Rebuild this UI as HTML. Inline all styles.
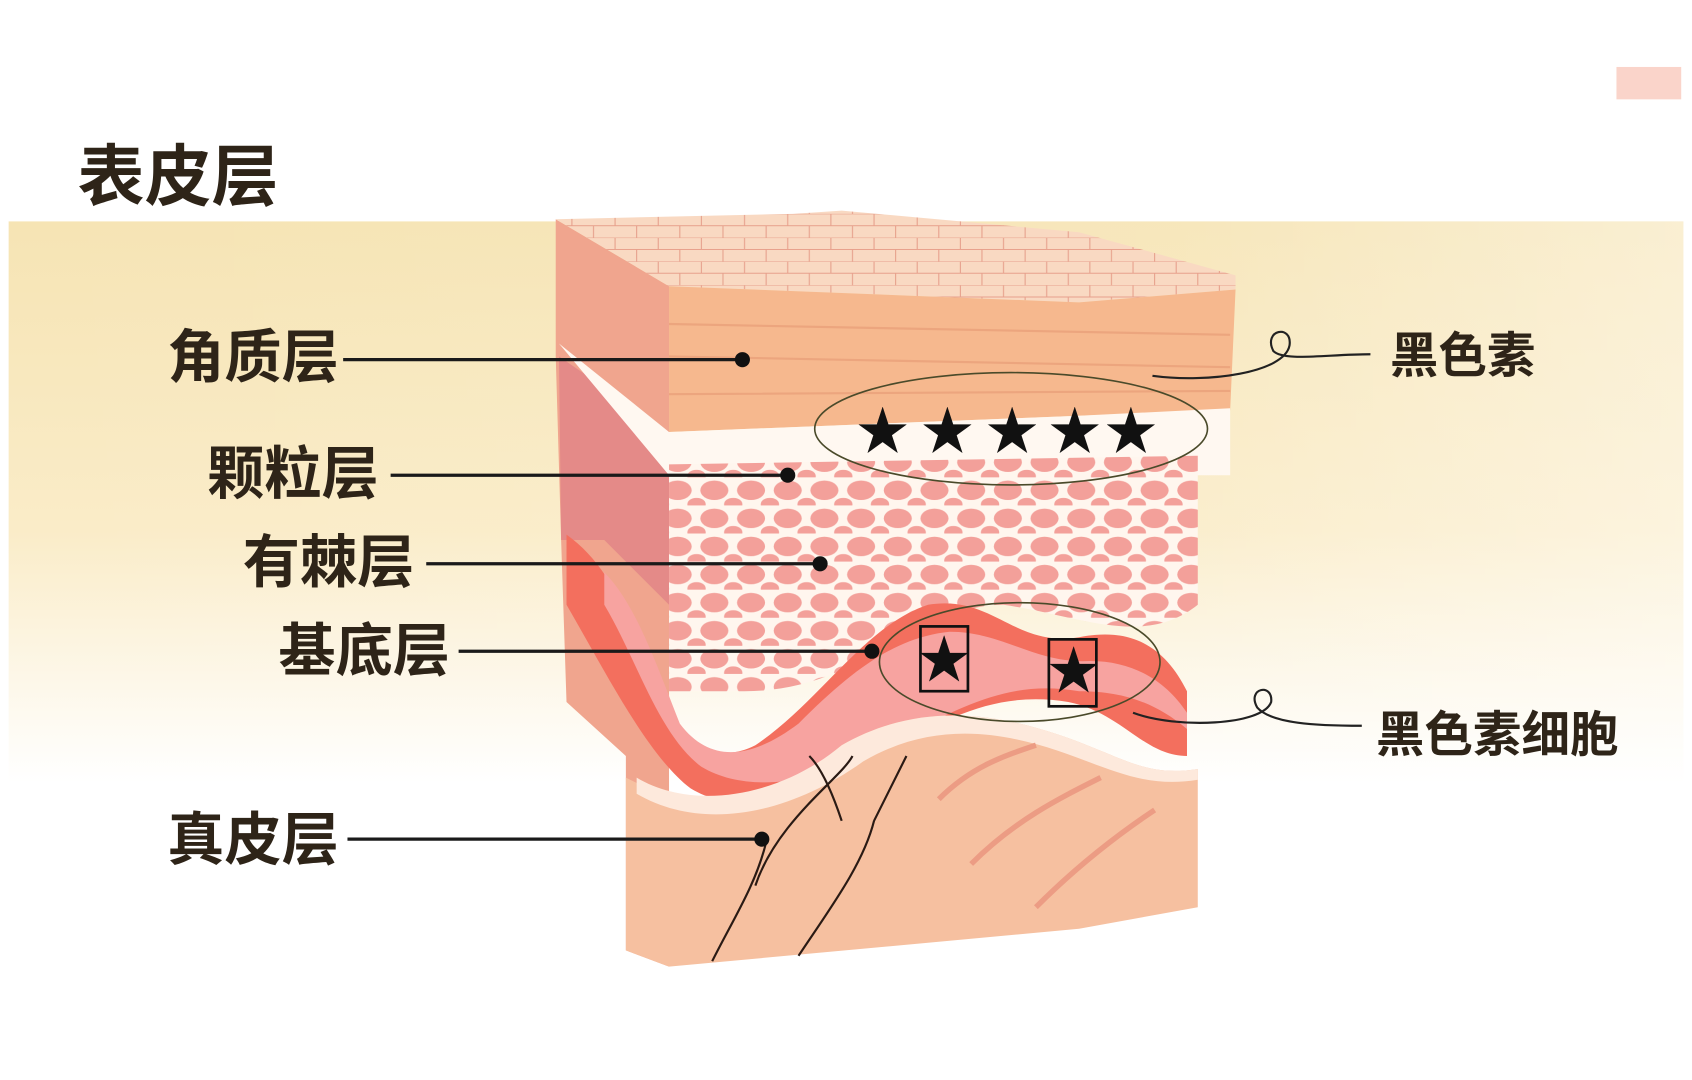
<!DOCTYPE html>
<html><head><meta charset="utf-8">
<style>
html,body{margin:0;padding:0;background:#fff;}
svg{display:block;}
text{font-family:"Liberation Sans","Noto Sans CJK SC",sans-serif;fill:#2e2418;font-weight:bold;}
</style></head>
<body>
<svg width="1692" height="1080" viewBox="0 0 1568 1000" preserveAspectRatio="none" xmlns="http://www.w3.org/2000/svg">
<defs>
<linearGradient id="bg" x1="0" y1="0" x2="0" y2="1">
<stop offset="0" stop-color="#f6e4b4"/>
<stop offset="0.55" stop-color="#faecc8"/>
<stop offset="1" stop-color="#ffffff"/>
</linearGradient>
<linearGradient id="bgx" x1="0" y1="0" x2="1" y2="0">
<stop offset="0" stop-color="#fff" stop-opacity="0"/>
<stop offset="0.7" stop-color="#fff" stop-opacity="0.1"/>
<stop offset="1" stop-color="#fff" stop-opacity="0.4"/>
</linearGradient>
<pattern id="cells" width="34" height="26" patternUnits="userSpaceOnUse">
<rect width="34" height="26" fill="#fff6ee"/>
<ellipse cx="16" cy="12" rx="13" ry="9" fill="#f3a09a"/>
<ellipse cx="33" cy="25" rx="8" ry="6" fill="#f3a09a"/>
<ellipse cx="0" cy="25" rx="8" ry="6" fill="#f3a09a"/>
</pattern>
<pattern id="top" width="40" height="22" patternUnits="userSpaceOnUse">
<rect width="40" height="22" fill="#f9d9c2"/>
<path d="M0 0H40M0 11H40M10 0V11M30 11V22" stroke="#e7a08c" stroke-width="1" fill="none"/>
</pattern>
</defs>
<rect width="1568" height="1000" fill="#fff"/>
<rect x="8" y="205" width="1552" height="520" fill="url(#bg)"/>
<rect x="8" y="205" width="1552" height="520" fill="url(#bgx)"/>
<rect x="1498" y="62" width="60" height="30" fill="#f3a08a" opacity="0.45"/>
<text x="72" y="185" font-size="62">表皮层</text>

<path d="M515 203 L620 265 L620 895 L580 880 L580 700 L525 650 L520 500 L515 330 Z" fill="#f0a58e"/>
<path d="M518 330 L620 400 L620 560 L560 500 L520 500 Z" fill="#e48a88"/>
<path d="M515 203 L735 198 L780 195 L1000 215 L1145 255 L1145 268 L1000 280 L620 265 Z" fill="url(#top)"/>
<path d="M620 265 L1000 280 L1145 268 L1140 380 L1000 385 L620 400 Z" fill="#f6b88e"/>
<path d="M620 300 L1140 310 M620 330 L1140 340 M620 365 L1140 362" stroke="#eca57e" stroke-width="2"/>
<path d="M518 318 L620 400 L1000 385 L1140 378 L1140 440 L620 440 Z" fill="#fff8f1"/>
<path d="M620 430 L1110 422 L1110 560 C1060 600 1000 570 930 560 C850 560 800 640 690 640 L620 640 Z" fill="url(#cells)"/>
<path d="M525 495 C560 520 580 560 600 620 C620 690 660 710 700 690 C760 650 800 580 860 560 C920 550 940 600 1000 590 C1050 580 1080 600 1100 640 L1100 700 C1060 700 1040 660 990 650 C930 640 880 660 820 700 C760 740 690 760 640 730 C600 700 560 620 525 560 Z" fill="#f36f5e"/>
<path d="M560 530 C590 560 610 620 630 670 C660 710 700 700 740 670 C790 620 830 590 880 585 C930 585 960 615 1010 612 C1050 612 1080 630 1100 660 L1100 675 C1070 650 1040 640 1000 640 C940 630 900 650 840 680 C780 720 700 740 650 710 C610 680 590 610 560 560 Z" fill="#f7a3a0"/>
<path d="M600 730 C650 760 720 740 780 690 C850 650 920 660 980 680 C1040 700 1060 720 1110 712 L1110 840 L1000 860 L620 895 L580 880 L580 720 Z" fill="#f6c0a0"/>
<path d="M590 720 C640 750 720 740 780 690 C850 650 920 660 980 680 C1040 700 1060 720 1110 712 L1110 722 C1060 730 1030 712 980 695 C920 675 860 670 800 705 C730 755 650 770 590 735 Z" fill="#fde9dc"/>
<path d="M660 890 C680 850 700 820 710 780 M700 820 C720 760 780 720 790 700 M740 885 C770 840 800 800 810 760 M810 760 C820 740 830 720 840 700 M780 760 C770 730 760 710 750 700" stroke="#2a1a14" stroke-width="2" fill="none"/>
<path d="M870 740 C900 710 930 700 960 690 M900 800 C940 760 980 740 1020 720 M960 840 C1000 800 1040 770 1070 750" stroke="#ec9c84" stroke-width="5" fill="none"/>

<ellipse cx="937" cy="397" rx="182" ry="52" fill="none" stroke="#4a4a2a" stroke-width="1.5"/>
<ellipse cx="945" cy="613" rx="130" ry="55" fill="none" stroke="#4a4a2a" stroke-width="1.5"/>
<g font-size="48" text-anchor="middle">
<text x="818" y="416" style="fill:#111">★</text>
<text x="878" y="416" style="fill:#111">★</text>
<text x="938" y="416" style="fill:#111">★</text>
<text x="996" y="416" style="fill:#111">★</text>
<text x="1048" y="416" style="fill:#111">★</text>
<text x="875" y="628" style="fill:#111">★</text>
<text x="995" y="638" style="fill:#111">★</text>
</g>
<rect x="853" y="580" width="44" height="60" fill="none" stroke="#111" stroke-width="2.5"/>
<rect x="972" y="592" width="44" height="62" fill="none" stroke="#111" stroke-width="2.5"/>

<g stroke="#1a1a1a" stroke-width="3">
<line x1="318" y1="333" x2="688" y2="333"/>
<line x1="362" y1="440" x2="730" y2="440"/>
<line x1="395" y1="522" x2="760" y2="522"/>
<line x1="425" y1="603" x2="808" y2="603"/>
<line x1="322" y1="777" x2="706" y2="777"/>
</g>
<g fill="#111">
<circle cx="688" cy="333" r="7"/><circle cx="730" cy="440" r="7"/><circle cx="760" cy="522" r="7"/><circle cx="808" cy="603" r="7"/><circle cx="706" cy="777" r="7"/>
</g>
<path d="M1068 348 C1120 355 1190 345 1195 320 C1198 300 1170 305 1180 325 C1190 335 1230 328 1270 328" stroke="#222" stroke-width="2" fill="none"/>
<path d="M1050 660 C1090 675 1170 672 1178 650 C1180 632 1155 637 1165 655 C1178 670 1220 672 1262 672" stroke="#222" stroke-width="2" fill="none"/>

<g font-size="53">
<text x="155" y="349">角质层</text>
<text x="192" y="457">颗粒层</text>
<text x="225" y="539">有棘层</text>
<text x="258" y="621">基底层</text>
<text x="155" y="796">真皮层</text>
</g>
<g font-size="45">
<text x="1288" y="345">黑色素</text>
<text x="1275" y="696">黑色素细胞</text>
</g>
</svg>
</body></html>
